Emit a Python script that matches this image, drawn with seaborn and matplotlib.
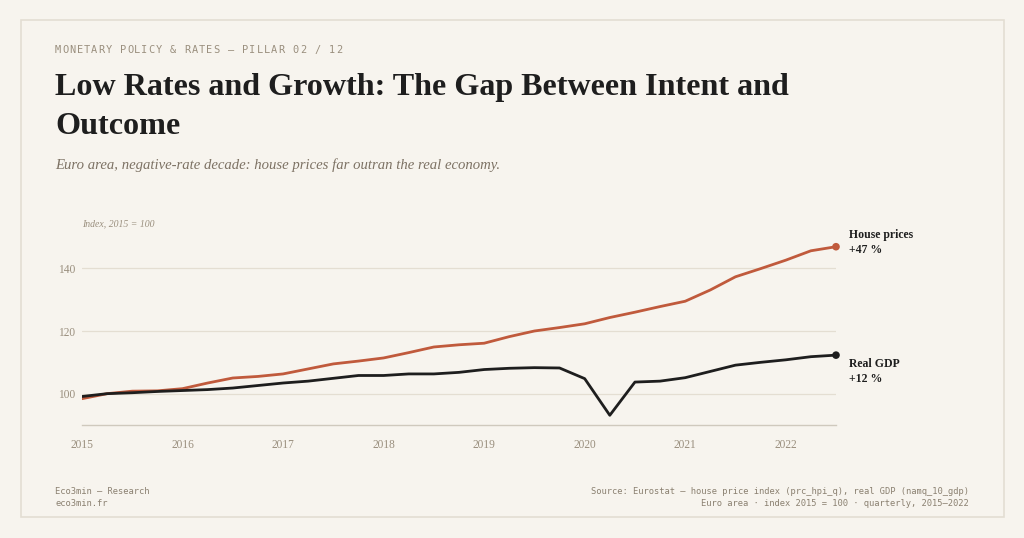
import numpy as np
import pandas as pd
import matplotlib
matplotlib.use("Agg")
import matplotlib.pyplot as plt
import seaborn as sns
from matplotlib.patches import Rectangle

# Quarterly index values, 2015 Q1 - 2022 Q3 (2015 = 100)
quarters = np.arange(31) / 4 + 2015
house_prices = [98.4, 100.0, 100.8, 100.9, 101.6, 103.4, 105.0, 105.5,
                106.3, 107.9, 109.5, 110.4, 111.4, 113.1, 114.9, 115.6,
                116.1, 118.2, 120.0, 121.1, 122.3, 124.3, 126.0, 127.8,
                129.5, 133.1, 137.3, 139.9, 142.6, 145.6, 146.9]
real_gdp = [99.1, 100.0, 100.3, 100.7, 101.0, 101.3, 101.8, 102.6,
            103.4, 104.0, 104.9, 105.8, 105.8, 106.3, 106.3, 106.8,
            107.7, 108.1, 108.3, 108.2, 104.8, 93.1, 103.7, 104.0,
            105.1, 107.1, 109.1, 110.0, 110.8, 111.8, 112.3]
year_ticks = [2015, 2016, 2017, 2018, 2019, 2020, 2021, 2022]
value_ticks = [100, 120, 140]
series_names = ["House prices", "Real GDP"]
end_labels = ["+47 %", "+12 %"]

BG = "#f7f4ee"
ORANGE = "#c05a3c"
INK = "#1e1e1e"
MUTED = "#9a8f7e"
GRID = "#e4ded2"

df = pd.DataFrame({"quarter": np.concatenate([quarters, quarters]),
                   "value": house_prices + real_gdp,
                   "series": [series_names[0]] * 31 + [series_names[1]] * 31})

sns.set_theme(style="white")
plt.rcParams["font.family"] = ["Liberation Serif", "DejaVu Serif"]

fig = plt.figure(figsize=(10.24, 5.38), dpi=100)
fig.patch.set_facecolor(BG)
fig.patches.append(Rectangle((20.5 / 1024, 1 - 517 / 538), 983 / 1024, 497 / 538,
                             transform=fig.transFigure, fill=False,
                             edgecolor="#e3ded3", linewidth=1.2))

ax = fig.add_axes([82 / 1024, 1 - 425 / 538, 754 / 1024, 188 / 538])
ax.set_facecolor(BG)

sns.lineplot(data=df, x="quarter", y="value", hue="series",
             palette=[ORANGE, INK], linewidth=2.0, legend=False, ax=ax)

ends = df.groupby("series", sort=False).tail(1)
sns.scatterplot(data=ends, x="quarter", y="value", hue="series",
                palette=[ORANGE, INK], s=30, edgecolor="none",
                legend=False, ax=ax, zorder=5, clip_on=False)

ax.set_xlim(2015, 2022.5)
ax.set_ylim(90, 150)
ax.set_xticks(year_ticks)
ax.set_yticks(value_ticks)
ax.set_xticklabels([str(y) for y in year_ticks])
ax.tick_params(axis="both", length=0, labelsize=8.3, labelcolor=MUTED)
ax.tick_params(axis="x", pad=10)
ax.tick_params(axis="y", pad=5)
ax.set_xlabel("")
ax.set_ylabel("")
ax.grid(axis="y", color=GRID, linewidth=0.9)
ax.grid(axis="x", visible=False)
for side in ["top", "right", "left"]:
    ax.spines[side].set_visible(False)
ax.spines["bottom"].set_color("#cfc9bd")
ax.spines["bottom"].set_linewidth(1.0)

# end-of-line labels: (name line, value line) vertical offsets in points
label_offsets = [(8.2, -2.7), (-6.1, -17.5)]
for (_, row), lab, (dy1, dy2) in zip(ends.iterrows(), end_labels, label_offsets):
    ax.annotate(row["series"], (row["quarter"], row["value"]),
                xytext=(9.5, dy1), textcoords="offset points", fontsize=8.5,
                fontweight="bold", color=INK, va="center", ha="left",
                annotation_clip=False)
    ax.annotate(lab, (row["quarter"], row["value"]),
                xytext=(9.5, dy2), textcoords="offset points", fontsize=8.5,
                fontweight="bold", color=INK, va="center", ha="left",
                annotation_clip=False)

# header kicker, letter-spaced monospace
kicker = "MONETARY POLICY & RATES — PILLAR 02 / 12"
for i, ch in enumerate(kicker):
    fig.text((55 + i * 7.2) / 1024, 1 - 50 / 538, ch,
             family="DejaVu Sans Mono", fontsize=7.4, color=MUTED, va="center")

fig.text(55 / 1024, 1 - 88 / 538, "Low Rates and Growth: The Gap Between Intent and",
         fontsize=23.1, fontweight="bold", color=INK, va="center")
fig.text(55 / 1024, 1 - 126.5 / 538, "Outcome",
         fontsize=23.1, fontweight="bold", color=INK, va="center")
fig.text(55 / 1024, 1 - 165 / 538,
         "Euro area, negative-rate decade: house prices far outran the real economy.",
         fontsize=10.6, style="italic", color="#7d7264", va="center")
fig.text(82 / 1024, 1 - 224 / 538, "Index, 2015 = 100",
         fontsize=7, style="italic", color=MUTED, va="center")

# footer
FOOT = "#8a8070"
fig.text(55 / 1024, 1 - 491 / 538, "Eco3min — Research",
         family="DejaVu Sans Mono", fontsize=6.3, color=FOOT, va="center")
fig.text(55 / 1024, 1 - 504 / 538, "eco3min.fr",
         family="DejaVu Sans Mono", fontsize=6.3, color=FOOT, va="center")
fig.text(969 / 1024, 1 - 491 / 538,
         "Source: Eurostat — house price index (prc_hpi_q), real GDP (namq_10_gdp)",
         family="DejaVu Sans Mono", fontsize=6.3, color=FOOT, va="center", ha="right")
fig.text(969 / 1024, 1 - 504 / 538,
         "Euro area · index 2015 = 100 · quarterly, 2015–2022",
         family="DejaVu Sans Mono", fontsize=6.3, color=FOOT, va="center", ha="right")

fig.savefig("out.png", dpi=100, facecolor=BG)
